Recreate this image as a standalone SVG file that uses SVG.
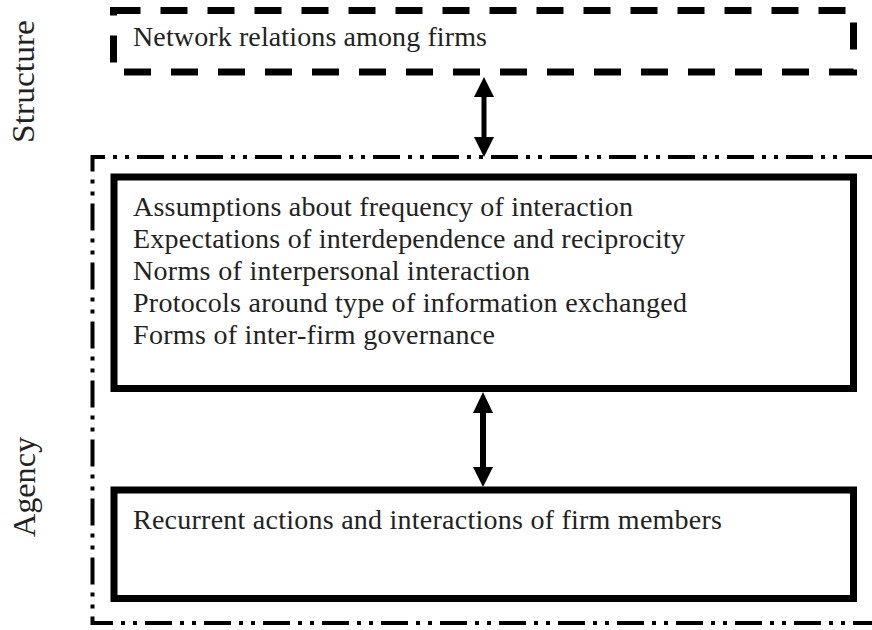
<svg xmlns="http://www.w3.org/2000/svg" width="872" height="630" viewBox="0 0 872 630">
<style>
  .lbl { font-family: "Liberation Serif", "Times New Roman", serif; font-size: 28px; fill: #222; }
  .side { font-family: "Liberation Serif", "Times New Roman", serif; font-size: 31px; fill: #222; }
  .solid { fill: none; stroke: #000; stroke-width: 7; }
  .dashed { fill: none; stroke: #000; stroke-width: 7; stroke-dasharray: 27 20; }
  .dashdot { fill: none; stroke: #000; stroke-width: 4; stroke-dasharray: 27 8 4 8 4 8; }
  .arrow { fill: #000; stroke: none; }
</style>
<rect width="872" height="630" fill="#fff"/>

<g id="label-structure">
  <text class="side" transform="translate(34,81.5) rotate(-90)" text-anchor="middle" textLength="123" lengthAdjust="spacingAndGlyphs">Structure</text>
</g>
<g id="label-agency">
  <text class="side" transform="translate(35,487) rotate(-90)" text-anchor="middle" textLength="100" lengthAdjust="spacingAndGlyphs">Agency</text>
</g>

<g id="agency-frame">
  <path class="dashdot" d="M 872 157 H 92.5 V 623 H 872"/>
</g>

<g id="node-network">
  <rect class="dashed" x="113.5" y="10.5" width="740" height="61.5"/>
  <text class="lbl" x="133" y="46" textLength="354">Network relations among firms</text>
</g>

<g id="node-norms">
  <rect class="solid" x="114" y="177" width="739.5" height="211.5"/>
  <text class="lbl" x="133" y="216" textLength="500">Assumptions about frequency of interaction</text>
  <text class="lbl" x="133" y="248" textLength="552">Expectations of interdependence and reciprocity</text>
  <text class="lbl" x="133" y="280" textLength="397">Norms of interpersonal interaction</text>
  <text class="lbl" x="133" y="312" textLength="554">Protocols around type of information exchanged</text>
  <text class="lbl" x="133" y="344" textLength="362">Forms of inter-firm governance</text>
</g>

<g id="node-actions">
  <rect class="solid" x="114" y="490" width="739.5" height="108.5"/>
  <text class="lbl" x="133" y="529" textLength="589">Recurrent actions and interactions of firm members</text>
</g>

<g id="connectors">
  <path class="arrow" d="M 484 77 L 494 97 L 486.5 97 L 486.5 137 L 494 137 L 484 157 L 474 137 L 481.5 137 L 481.5 97 L 474 97 Z"/>
  <path class="arrow" d="M 483 392 L 493 413 L 486 413 L 486 467 L 493 467 L 483 487 L 473 467 L 480 467 L 480 413 L 473 413 Z"/>
</g>
</svg>
